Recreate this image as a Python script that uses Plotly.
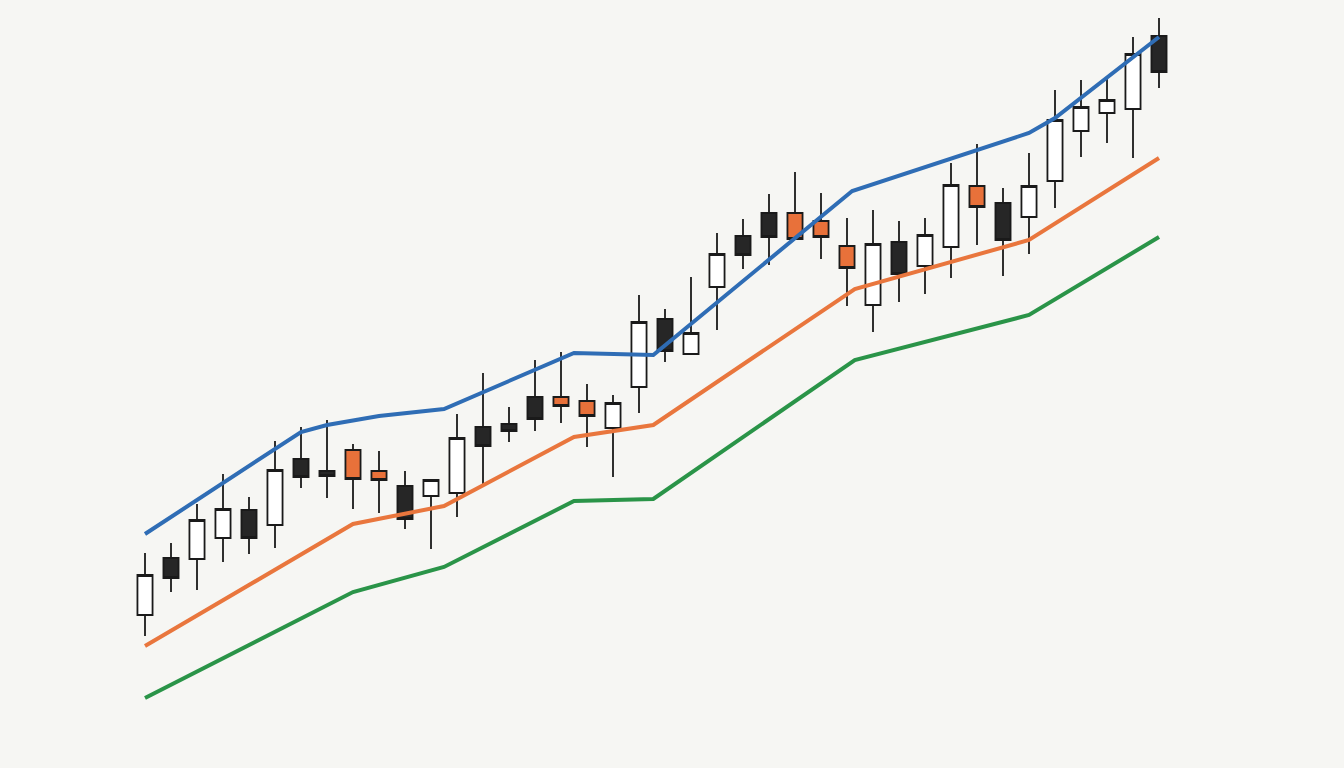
import plotly.graph_objects as go

# ---- data ----
kind = ["up", "down", "up", "up", "down", "up", "down", "down", "hl", "hl",
        "down", "up", "up", "down", "down", "down", "hl", "hl", "up", "up",
        "down", "up", "up", "down", "down", "hl", "hl", "hl", "up", "down",
        "up", "up", "hl", "down", "up", "up", "up", "up", "up", "down"]
opens = [37.0, 48.4, 48.2, 52.4, 58.0, 55.0, 68.2, 65.8, 70.0, 65.8,
         62.8, 60.8, 61.4, 74.6, 75.2, 80.6, 80.6, 79.8, 74.4, 82.6,
         96.2, 89.2, 102.6, 112.8, 117.4, 117.4, 115.8, 110.8, 99.0, 111.6,
         106.8, 110.6, 122.8, 119.4, 116.6, 123.8, 133.8, 137.4, 138.2, 152.8]
highs = [49.4, 51.4, 59.2, 65.2, 60.6, 71.8, 74.6, 76.0, 71.2, 69.8,
         65.8, 64.0, 77.2, 85.4, 78.6, 88.0, 89.6, 83.2, 81.0, 101.0,
         98.2, 104.6, 113.4, 116.2, 121.2, 125.6, 121.4, 116.4, 118.0, 115.8,
         116.4, 127.4, 131.2, 122.4, 129.4, 142.0, 144.0, 144.4, 152.6, 156.4]
lows = [32.8, 41.6, 42.0, 47.6, 49.2, 50.4, 62.4, 60.4, 58.2, 57.4,
        54.2, 50.2, 56.6, 63.2, 71.6, 73.8, 75.4, 70.6, 64.6, 77.4,
        87.6, 89.2, 94.0, 106.2, 107.0, 112.2, 108.2, 98.8, 93.6, 99.6,
        101.2, 104.4, 111.0, 104.8, 109.2, 118.4, 128.6, 131.4, 128.4, 142.4]
closes = [45.0, 44.4, 56.0, 58.2, 52.4, 66.0, 64.6, 64.8, 64.2, 64.0,
          56.2, 64.0, 72.4, 70.8, 73.8, 76.2, 78.8, 76.8, 79.4, 95.6,
          89.8, 93.4, 109.2, 109.0, 112.6, 112.2, 112.6, 106.4, 111.2, 105.2,
          113.0, 123.0, 118.6, 112.0, 122.8, 136.0, 138.6, 140.0, 149.2, 145.6]
sessions = list(range(len(opens)))

# envelope lines: (session, value) vertices
upper_x = [0, 6, 7, 9, 11.5, 16.5, 19.55, 27.2, 34, 35, 39]
upper_y = [53.2, 73.6, 75.0, 76.8, 78.2, 89.4, 89.0, 121.8, 133.4, 136.4, 152.6]
mid_x = [0, 8, 11.5, 16.5, 19.55, 27.3, 34, 39]
mid_y = [30.8, 55.2, 58.8, 72.6, 75.0, 102.2, 112.0, 128.4]
lower_x = [0, 8, 11.5, 16.5, 19.55, 27.3, 34, 39]
lower_y = [20.4, 41.6, 46.6, 59.8, 60.2, 88.0, 97.0, 112.6]

# ---- figure ----
BG = "#F6F6F3"
fig = go.Figure()

for xs, ys, col in [(upper_x, upper_y, "#2F6DB5"),
                    (mid_x, mid_y, "#E9763D"),
                    (lower_x, lower_y, "#2A9448")]:
    fig.add_trace(go.Scatter(x=xs, y=ys, mode="lines",
                             line=dict(color=col, width=4),
                             hoverinfo="skip", showlegend=False))

fills = {"up": "#FFFFFF", "down": "#262626", "hl": "#E8713A"}
for k in ["up", "down", "hl"]:
    idx = [i for i, kk in enumerate(kind) if kk == k]
    fig.add_trace(go.Candlestick(
        x=[sessions[i] for i in idx],
        open=[opens[i] for i in idx],
        high=[highs[i] for i in idx],
        low=[lows[i] for i in idx],
        close=[closes[i] for i in idx],
        increasing=dict(fillcolor=fills[k], line=dict(color="#1A1A1A", width=1.8)),
        decreasing=dict(fillcolor=fills[k], line=dict(color="#1A1A1A", width=1.8)),
        whiskerwidth=0, showlegend=False, hoverinfo="skip"))

x0 = -145 / 26.0
x1 = (1344 - 145) / 26.0
fig.update_layout(
    width=1344, height=768,
    margin=dict(l=0, r=0, t=0, b=0),
    paper_bgcolor=BG, plot_bgcolor=BG,
    showlegend=False,
    boxgap=0.17,
    xaxis=dict(range=[x0, x1], visible=False, rangeslider=dict(visible=False),
               showgrid=False, zeroline=False),
    yaxis=dict(range=[6.4, 160], visible=False, showgrid=False, zeroline=False),
)

fig.write_html(
    "out.html",
    config={"displayModeBar": False, "staticPlot": True},
    post_script=("document.body.style.margin='0';"
                 "document.body.style.overflow='hidden';"
                 "document.body.style.background='" + BG + "';"),
)
